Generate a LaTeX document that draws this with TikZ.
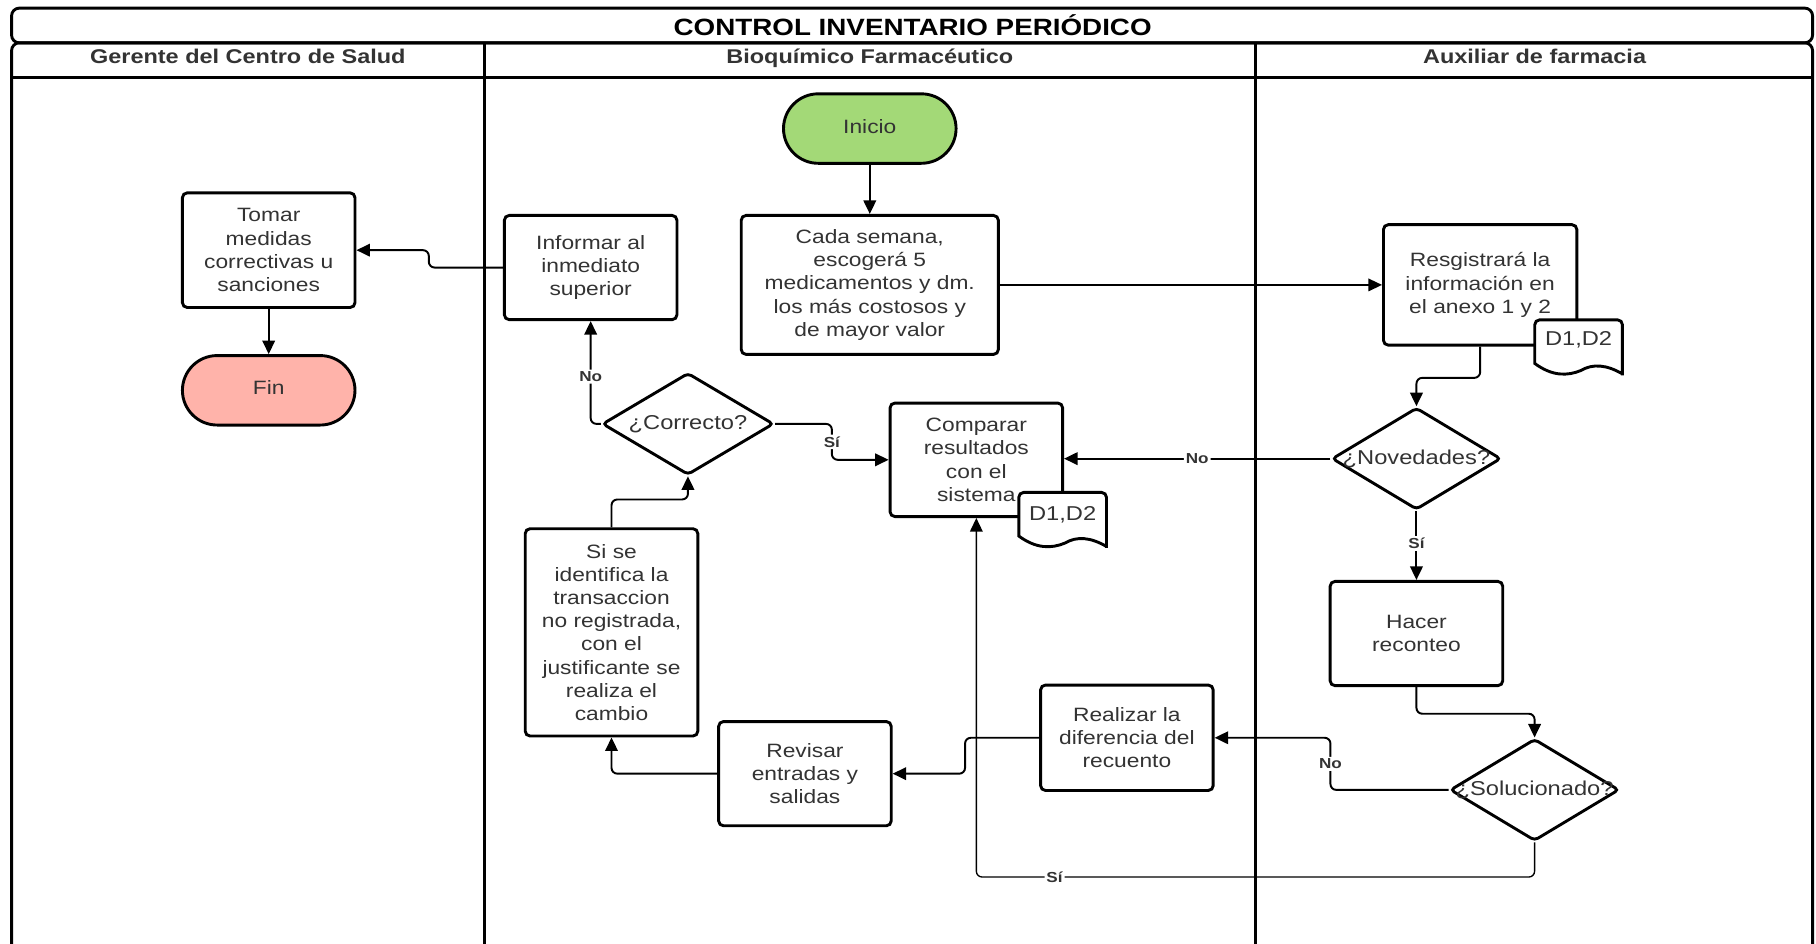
\documentclass[tikz,border=0pt]{standalone}
\usepackage{fontspec}
\setmainfont{Liberation Sans}[FakeStretch=1.18]
\usetikzlibrary{arrows.meta,shapes.geometric,calc}
\definecolor{txt}{HTML}{333333}
\definecolor{startgreen}{HTML}{A3D977}
\definecolor{endpink}{HTML}{FFB3AA}

% document symbol with a wavy lower edge, drawn over the box it belongs to
\newcommand{\docsymbol}[1]{%
  \draw[line width=1.5pt, fill=white]
    ($(#1.south west)+(0,-9)$) [rounded corners=2.5pt] -- (#1.north west) -- (#1.north east)
    -- ($(#1.south east)+(0,-3)$) [sharp corners] -- (#1.south east)
    .. controls ($(#1.south west)+(62,-8)$) and ($(#1.south west)+(50,-9)$) .. ($(#1.south west)+(40,-3)$)
    .. controls ($(#1.south west)+(28,2)$) and ($(#1.south west)+(15,2)$) .. ($(#1.south west)+(0,-9)$)
    -- cycle;}

\begin{document}
\begin{tikzpicture}[x=0.6pt,y=-0.6pt,
  box/.style={draw, line width=1.5pt, rounded corners=2.5pt, fill=white, align=center,
    text=txt, font=\fontsize{10}{12}\selectfont, inner sep=0pt,
    minimum width=89.4pt, minimum height=54pt},
  term/.style={box, rounded corners=18pt, minimum height=36pt, text depth=2.4pt},
  dia/.style={draw, shape=diamond, line width=1.5pt, rounded corners=2pt, fill=white,
    inner sep=0pt, minimum width=88.8pt, minimum height=52.8pt},
  diatext/.style={text=txt, font=\fontsize{10.4}{12}\selectfont, inner sep=0pt},
  docbox/.style={inner sep=0pt, minimum width=45pt, minimum height=27.6pt},
  conn/.style={line width=1pt, rounded corners=3pt, -{Triangle[length=7pt,width=6.5pt]}},
  thinconn/.style={conn, line width=0.7pt},
  lbl/.style={fill=white, inner sep=1pt, text=txt, font=\bfseries\fontsize{7.5}{9}\selectfont},
  lane/.style={line width=1.5pt},
  head/.style={text=txt, anchor=base, font=\bfseries\fontsize{10.3}{12}\selectfont},
]
\useasboundingbox (0,0) rectangle (1568,815);

% pool frame, title band and lane headers
\draw[lane, rounded corners=4pt] (10,7) rectangle (1565,37);
\draw[lane, rounded corners=4pt] (10,820) -- (10,37) -- (1565,37) -- (1565,820);
\draw[lane] (10,67) -- (1565,67);
\draw[lane] (418,37) -- (418,820);
\draw[lane] (1084,37) -- (1084,820);

\node[anchor=base, font=\bfseries\fontsize{12.2}{14}\selectfont] (title) at (788,30.5) {CONTROL INVENTARIO PERIÓDICO};
\node[head] (h1) at (214,55) {Gerente del Centro de Salud};
\node[head] (h2) at (751,55) {Bioquímico Farmacéutico};
\node[head] (h3) at (1325,55) {Auxiliar de farmacia};

% Gerente del Centro de Salud
\node[box, minimum height=59.4pt] (tom) at (232,216) {Tomar\\medidas\\correctivas u\\sanciones};
\node[term, fill=endpink] (fin) at (232,337) {Fin};

% Bioquímico Farmacéutico
\node[term, fill=startgreen] (ini) at (751,111) {Inicio};
\node[box, minimum width=133.2pt, minimum height=72pt] (cada) at (751,246)
  {Cada semana,\\escogerá 5\\medicamentos y dm.\\los más costosos y\\de mayor valor};
\node[box] (inf) at (510,231) {Informar al\\inmediato\\superior};
\node[dia] (cor) at (594,366) {};
\node[diatext] (cort) at (cor) {¿Correcto?};
\node[box, minimum height=58.8pt] (comp) at (843,397) {Comparar\\resultados\\con el\\sistema};
\node[docbox] (cd) at (917.5,448.5) {};
\docsymbol{cd}
\node[diatext] (cdt) at ($(cd.north)+(0,19)$) {D1,D2};
\node[box, minimum height=107.4pt] (sis) at (528,546)
  {Si se\\identifica la\\transaccion\\no registrada,\\con el\\justificante se\\realiza el\\cambio};
\node[box] (rev) at (695,668) {Revisar\\entradas y\\salidas};
\node[box, minimum height=54.6pt] (rea) at (973,637) {Realizar la\\diferencia del\\recuento};

% Auxiliar de farmacia
\node[box, minimum width=100.2pt, minimum height=62.4pt] (reg) at (1278,246)
  {Resgistrará la\\información en\\el anexo 1 y 2};
\node[docbox] (rd) at (1363,299.5) {};
\docsymbol{rd}
\node[diatext] (rdt) at ($(rd.north)+(0,17)$) {D1,D2};
\node[dia, minimum width=87.6pt] (nov) at (1223,396) {};
\node[diatext] (novt) at (nov) {¿Novedades?};
\node[box] (hac) at (1223,547) {Hacer\\reconteo};
\node[dia, minimum width=87.6pt] (sol) at (1325,682) {};
\node[diatext] (solt) at (sol) {¿Solucionado?};

% connectors
\draw[conn] (ini) -- (cada);
\draw[thinconn] (cada.east) -- (reg.west);
\draw[conn] (reg.south) -- ++(0,27) -| (nov.north);
\draw[conn] (nov.west) -- node[lbl] {No} (nov.west -| comp.east);
\draw[conn] (nov.south) -- node[lbl, pos=0.47] {Sí} (hac.north);
\draw[conn] (hac.south) -- ++(0,23) -| (sol.north);
\draw[conn] (sol.west) -- ++(-102,0) |- node[lbl, pos=0.25] {No} (rea.east);
\draw[thinconn] (sol.south) -- ++(0,30) -| node[lbl, pos=0.43] {Sí} (comp.south);
\draw[conn] (rea.west) -- ++(-64,0) |- (rev.east);
\draw[conn] (rev.west) -| (sis.south);
\draw[conn] (sis.north) -- ++(0,-24) -| (cor.south);
\draw[conn] (cor.west) -| node[lbl, pos=0.73] {No} (inf.south);
\draw[conn] (cor.east) -- ++(49,0) |- node[lbl, pos=0.25] {Sí} (comp.west);
\draw[conn] (inf.west) -- ++(-64,0) |- (tom.east);
\draw[conn] (tom) -- (fin);
\end{tikzpicture}
\end{document}
